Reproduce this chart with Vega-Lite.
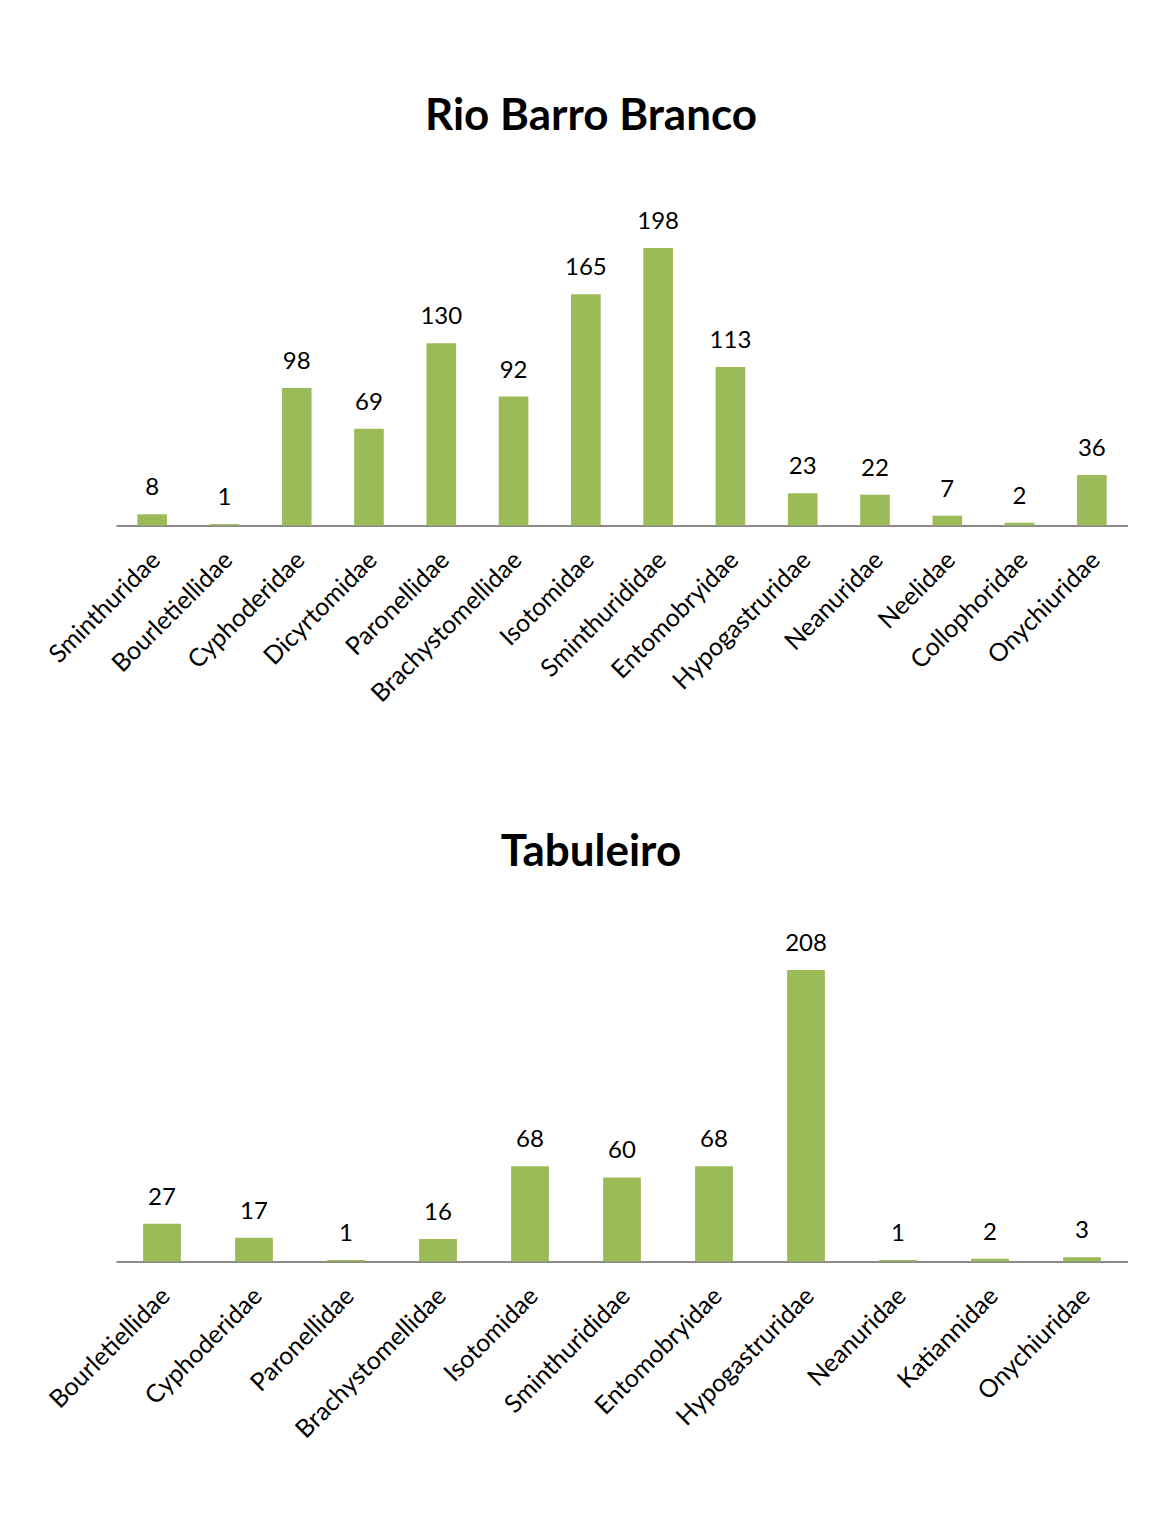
{
  "$schema": "https://vega.github.io/schema/vega-lite/v6.json",
  "background": "white",
  "padding": {"left": 44, "top": 95, "right": 0, "bottom": 0},
  "spacing": 124,
  "config": {
    "view": {"stroke": null},
    "font": "Lato",
    "title": {"fontSize": 44, "fontWeight": "bold", "color": "black", "font": "Lato", "anchor": "middle", "dx": -31, "offset": 36, "baseline": "alphabetic", "frame": "group"},
    "axisX": {"title": null, "labelAngle": -45, "labelAlign": "right", "labelBaseline": "middle", "labelFontSize": 25, "labelColor": "black", "labelFont": "Lato", "ticks": false, "tickSize": 0, "labelPadding": 30, "labelOffset": 4, "domainColor": "#8a8a8a", "domainWidth": 2, "labelOverlap": false, "labelLimit": 400},
    "axisY": {"disable": true}
  },
  "datasets": {
    "rio": [
      {"family": "Sminthuridae", "n": 8},
      {"family": "Bourletiellidae", "n": 1},
      {"family": "Cyphoderidae", "n": 98},
      {"family": "Dicyrtomidae", "n": 69},
      {"family": "Paronellidae", "n": 130},
      {"family": "Brachystomellidae", "n": 92},
      {"family": "Isotomidae", "n": 165},
      {"family": "Sminthurididae", "n": 198},
      {"family": "Entomobryidae", "n": 113},
      {"family": "Hypogastruridae", "n": 23},
      {"family": "Neanuridae", "n": 22},
      {"family": "Neelidae", "n": 7},
      {"family": "Collophoridae", "n": 2},
      {"family": "Onychiuridae", "n": 36}
    ],
    "tab": [
      {"family": "Bourletiellidae", "n": 27},
      {"family": "Cyphoderidae", "n": 17},
      {"family": "Paronellidae", "n": 1},
      {"family": "Brachystomellidae", "n": 16},
      {"family": "Isotomidae", "n": 68},
      {"family": "Sminthurididae", "n": 60},
      {"family": "Entomobryidae", "n": 68},
      {"family": "Hypogastruridae", "n": 208},
      {"family": "Neanuridae", "n": 1},
      {"family": "Katiannidae", "n": 2},
      {"family": "Onychiuridae", "n": 3}
    ]
  },
  "vconcat": [
    {
      "title": "Rio Barro Branco",
      "width": 1012,
      "height": 350.5,
      "data": {"name": "rio"},
      "encoding": {
        "x": {"field": "family", "type": "nominal", "sort": null, "scale": {"paddingInner": 0.59, "paddingOuter": 0.295}},
        "y": {"field": "n", "type": "quantitative", "scale": {"domain": [0, 250], "nice": false}}
      },
      "layer": [
        {"mark": {"type": "bar", "color": "#9BBB59"}},
        {"mark": {"type": "text", "fontSize": 24, "dy": -19, "baseline": "alphabetic", "color": "black", "font": "Lato"}, "encoding": {"text": {"field": "n", "type": "quantitative"}}}
      ]
    },
    {
      "title": "Tabuleiro",
      "width": 1012,
      "height": 350.5,
      "data": {"name": "tab"},
      "encoding": {
        "x": {"field": "family", "type": "nominal", "sort": null, "scale": {"paddingInner": 0.59, "paddingOuter": 0.295}},
        "y": {"field": "n", "type": "quantitative", "scale": {"domain": [0, 250], "nice": false}}
      },
      "layer": [
        {"mark": {"type": "bar", "color": "#9BBB59"}},
        {"mark": {"type": "text", "fontSize": 24, "dy": -19, "baseline": "alphabetic", "color": "black", "font": "Lato"}, "encoding": {"text": {"field": "n", "type": "quantitative"}}}
      ]
    }
  ]
}
